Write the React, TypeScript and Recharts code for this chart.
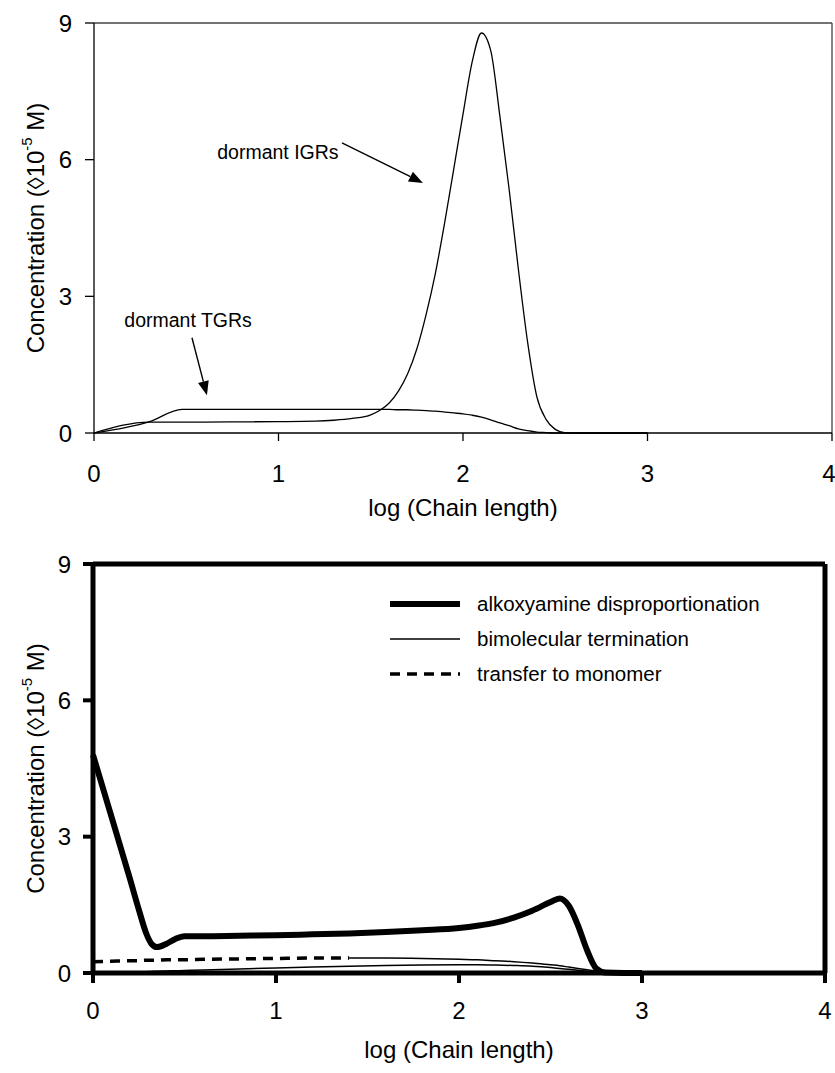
import React from "react";
import {
  LineChart,
  Line,
  XAxis,
  YAxis,
  Legend,
  ReferenceLine,
  ReferenceDot,
} from "recharts";

const FONT = "Arial, 'Liberation Sans', Helvetica, sans-serif";

// ---- upper panel: dormant chains ----
const topLogN = [
  0, 0.301, 0.477, 0.6, 0.8, 1.0, 1.2, 1.3, 1.4, 1.5, 1.55, 1.6, 1.65, 1.7,
  1.75, 1.8, 1.85, 1.9, 1.95, 2.0, 2.05, 2.1, 2.15, 2.2, 2.25, 2.3, 2.35, 2.4,
  2.45, 2.5, 2.55, 2.6, 2.8, 3.0,
];
const dormantIGR = [
  0, 0.24, 0.24, 0.24, 0.245, 0.25, 0.26, 0.28, 0.32, 0.4, 0.5, 0.66, 0.92,
  1.3, 1.85, 2.6, 3.5, 4.6, 5.8, 7.0, 8.15, 8.78, 8.4, 6.95, 5.35, 3.6, 2.0,
  0.8, 0.3, 0.08, 0.01, 0, 0, 0,
];
const dormantTGR = [
  0, 0.25, 0.52, 0.52, 0.52, 0.52, 0.52, 0.52, 0.52, 0.52, 0.52, 0.52, 0.51,
  0.51, 0.5, 0.49, 0.48, 0.46, 0.44, 0.42, 0.39, 0.35, 0.29, 0.22, 0.16, 0.09,
  0.05, 0.02, 0.01, 0, 0, 0, 0, 0,
];

// ---- lower panel: dead chains by termination route ----
const bottomLogN = [
  0, 0.1, 0.2, 0.25, 0.29, 0.32, 0.35, 0.4, 0.45, 0.5, 0.6, 0.8, 1.0, 1.2, 1.4,
  1.6, 1.8, 2.0, 2.1, 2.2, 2.3, 2.4, 2.5, 2.55, 2.6, 2.65, 2.7, 2.75, 2.8, 2.9,
  3.0,
];
const alkoxyamineDisp = [
  4.8, 3.45, 2.1, 1.4, 0.88, 0.64, 0.57, 0.64, 0.75, 0.81, 0.81, 0.82, 0.83,
  0.85, 0.87, 0.9, 0.94, 0.99, 1.04, 1.11, 1.22, 1.37, 1.56, 1.64, 1.48, 1.05,
  0.5, 0.1, 0.01, 0, 0,
];
const bimolecularTerm = [
  0, 0.01, 0.02, 0.025, 0.03, 0.035, 0.04, 0.045, 0.05, 0.055, 0.065, 0.09,
  0.11, 0.13, 0.15, 0.165, 0.175, 0.18, 0.18, 0.175, 0.165, 0.15, 0.12, 0.1,
  0.08, 0.06, 0.04, 0.02, 0.01, 0, 0,
];
const transferMonomer = [
  0.25, 0.26, 0.27, 0.27, 0.28, 0.28, 0.28, 0.29, 0.29, 0.29, 0.3, 0.31, 0.32,
  0.33, 0.33, 0.33, 0.32, 0.3, 0.29, 0.27, 0.25, 0.22, 0.18, 0.16, 0.13, 0.1,
  0.07, 0.04, 0.02, 0, 0,
];

const xTicks = [0, 1, 2, 3, 4];
const yTicks = [0, 3, 6, 9];

// dashes pack solid once the points get dense
const DASH_END = 1.4;

const topRows = topLogN.map((x, i) => ({
  x,
  igr: dormantIGR[i],
  tgr: dormantTGR[i],
}));

const bottomRows = bottomLogN.map((x, i) => ({
  x,
  alk: alkoxyamineDisp[i],
  bim: bimolecularTerm[i],
  trDash: x <= DASH_END ? transferMonomer[i] : null,
  trTail: x >= DASH_END ? transferMonomer[i] : null,
}));

const legendStyle: Record<string, { width: number; dash?: string }> = {
  alk: { width: 6 },
  bim: { width: 1.5 },
  trDash: { width: 3.5, dash: "10 7" },
};

function ConcentrationTitle({ viewBox }: any) {
  const cx = 35;
  const cy = viewBox.y + viewBox.height / 2;
  return (
    <text
      x={cx}
      y={cy}
      transform={`rotate(-90 ${cx} ${cy})`}
      textAnchor="middle"
      dominantBaseline="central"
      fontSize={24}
      fontFamily={FONT}
      fill="#000"
    >
      Concentration (◊10
      <tspan dy={-9} fontSize={15}>
        -5
      </tspan>
      <tspan dy={9}> M)</tspan>
    </text>
  );
}

function ChainTitle({ viewBox, drop }: any) {
  return (
    <text
      x={viewBox.x + viewBox.width / 2}
      y={viewBox.y + drop}
      textAnchor="middle"
      fontSize={24}
      fontFamily={FONT}
      fill="#000"
    >
      log (Chain length)
    </text>
  );
}

function Arrow({ x1, y1, x2, y2 }: any) {
  const a = Math.atan2(y2 - y1, x2 - x1);
  const len = 14;
  const half = 5.5;
  const bx = x2 - len * Math.cos(a);
  const by = y2 - len * Math.sin(a);
  const pts = [
    `${x2},${y2}`,
    `${bx + half * Math.sin(a)},${by - half * Math.cos(a)}`,
    `${bx - half * Math.sin(a)},${by + half * Math.cos(a)}`,
  ].join(" ");
  return (
    <g>
      <line x1={x1} y1={y1} x2={bx} y2={by} stroke="#000" strokeWidth={1.4} />
      <polygon points={pts} fill="#000" />
    </g>
  );
}

const noteText = (text: string) => (p: any) =>
  (
    <text
      x={p.cx}
      y={p.cy}
      textAnchor="middle"
      dominantBaseline="central"
      fontSize={19.5}
      fontFamily={FONT}
      fill="#000"
    >
      {text}
    </text>
  );

const renderLegend = ({ payload }: any) => (
  <div style={{ fontFamily: FONT }}>
    {(payload ?? [])
      .filter((e: any) => e.type !== "none" && legendStyle[e.dataKey])
      .map((e: any) => {
        const s = legendStyle[e.dataKey];
        return (
          <div
            key={e.dataKey}
            style={{ display: "flex", alignItems: "center", height: 35 }}
          >
            <svg width={74} height={12}>
              <line
                x1={2}
                y1={6}
                x2={72}
                y2={6}
                stroke="#000"
                strokeWidth={s.width}
                strokeDasharray={s.dash}
              />
            </svg>
            <span style={{ marginLeft: 15, fontSize: 20.5, color: "#000" }}>
              {e.value}
            </span>
          </div>
        );
      })}
  </div>
);

const tickFont = { fontSize: 24, fill: "#000", fontFamily: FONT };

export default function App() {
  return (
    <div style={{ position: "absolute", left: 0, top: 0, width: 835, background: "#fff" }}>
      <LineChart
        width={835}
        height={540}
        data={topRows}
        margin={{ top: 23, right: 3, left: 0, bottom: 47 }}
      >
        <XAxis
          dataKey="x"
          type="number"
          domain={[0, 4]}
          ticks={xTicks}
          height={60}
          tick={tickFont}
          tickSize={8}
          tickMargin={24}
          axisLine={{ stroke: "#000", strokeWidth: 1.3 }}
          tickLine={{ stroke: "#000", strokeWidth: 1.3 }}
          label={<ChainTitle drop={83} />}
        />
        <YAxis
          type="number"
          domain={[0, 9]}
          ticks={yTicks}
          width={94}
          tick={tickFont}
          tickSize={9}
          tickMargin={13}
          axisLine={{ stroke: "#000", strokeWidth: 1.3 }}
          tickLine={{ stroke: "#000", strokeWidth: 1.3 }}
          label={<ConcentrationTitle />}
        />
        <ReferenceLine y={9} stroke="#444" strokeWidth={1.3} />
        <ReferenceLine x={4} stroke="#444" strokeWidth={1.3} />
        <Line
          dataKey="tgr"
          type="monotone"
          stroke="#000"
          strokeWidth={1.3}
          dot={false}
          isAnimationActive={false}
        />
        <Line
          dataKey="igr"
          type="monotone"
          stroke="#000"
          strokeWidth={1.3}
          dot={false}
          isAnimationActive={false}
        />
        <ReferenceLine
          segment={[
            { x: 1.344, y: 6.37 },
            { x: 1.783, y: 5.49 },
          ]}
          shape={<Arrow />}
        />
        <ReferenceLine
          segment={[
            { x: 0.531, y: 2.09 },
            { x: 0.612, y: 0.83 },
          ]}
          shape={<Arrow />}
        />
        <ReferenceDot x={0.997} y={6.17} r={0} shape={noteText("dormant IGRs")} />
        <ReferenceDot x={0.51} y={2.48} r={0} shape={noteText("dormant TGRs")} />
      </LineChart>

      <LineChart
        width={835}
        height={533}
        data={bottomRows}
        margin={{ top: 24, right: 10, left: 0, bottom: 40 }}
      >
        <XAxis
          dataKey="x"
          type="number"
          domain={[0, 4]}
          ticks={xTicks}
          height={60}
          tick={tickFont}
          tickSize={10}
          tickMargin={19}
          axisLine={{ stroke: "#000", strokeWidth: 5 }}
          tickLine={{ stroke: "#000", strokeWidth: 4 }}
          label={<ChainTitle drop={85} />}
        />
        <YAxis
          type="number"
          domain={[0, 9]}
          ticks={yTicks}
          width={93}
          tick={tickFont}
          tickSize={10}
          tickMargin={12}
          axisLine={{ stroke: "#000", strokeWidth: 5 }}
          tickLine={{ stroke: "#000", strokeWidth: 4 }}
          label={<ConcentrationTitle />}
        />
        <ReferenceLine y={9} stroke="#000" strokeWidth={5} />
        <ReferenceLine x={4} stroke="#000" strokeWidth={5} />
        <Legend
          layout="vertical"
          align="center"
          verticalAlign="middle"
          wrapperStyle={{ top: 46, left: 388, width: 420, height: 110 }}
          content={renderLegend}
        />
        <Line
          dataKey="alk"
          name="alkoxyamine disproportionation"
          type="monotone"
          stroke="#000"
          strokeWidth={6}
          dot={false}
          isAnimationActive={false}
        />
        <Line
          dataKey="bim"
          name="bimolecular termination"
          type="monotone"
          stroke="#000"
          strokeWidth={1.5}
          dot={false}
          isAnimationActive={false}
        />
        <Line
          dataKey="trDash"
          name="transfer to monomer"
          type="monotone"
          stroke="#000"
          strokeWidth={3.5}
          strokeDasharray="10 7"
          dot={false}
          isAnimationActive={false}
        />
        <Line
          dataKey="trTail"
          legendType="none"
          type="monotone"
          stroke="#000"
          strokeWidth={1.5}
          dot={false}
          isAnimationActive={false}
        />
      </LineChart>
    </div>
  );
}
